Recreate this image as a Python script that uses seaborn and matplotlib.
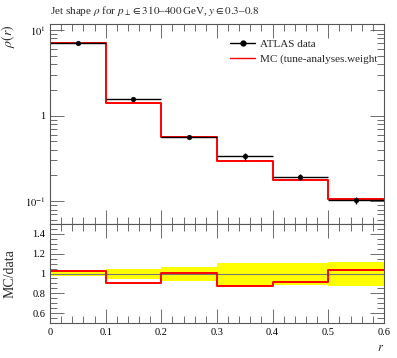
import numpy as np
import matplotlib
matplotlib.use("Agg")
import matplotlib.pyplot as plt
import seaborn as sns
from matplotlib.lines import Line2D

# bin edges in r
edges = [0.0, 0.1, 0.2, 0.3, 0.4, 0.5, 0.6]
# ATLAS data
data_rho = [7.0, 1.55, 0.565, 0.336, 0.192, 0.103]
data_err = [0.15, 0.05, 0.02, 0.03, 0.015, 0.01]
# MC prediction
mc_rho = [7.15, 1.40, 0.57, 0.295, 0.176, 0.107]
# relative data uncertainty band for ratio panel
band_lo = [0.97, 0.94, 0.92, 0.87, 0.88, 0.87]
band_hi = [1.03, 1.05, 1.07, 1.11, 1.11, 1.12]

edges = np.array(edges)
centers = 0.5 * (edges[:-1] + edges[1:])
halfw = 0.5 * np.diff(edges)
data_rho = np.array(data_rho)
mc_rho = np.array(mc_rho)
ratio = mc_rho / data_rho

sns.set_style("ticks")
plt.rcParams["font.family"] = ["Liberation Serif", "DejaVu Serif"]
plt.rcParams["mathtext.fontset"] = "stix"

fig = plt.figure(figsize=(3.97, 3.58), dpi=100)
ax = fig.add_axes([0.126, 0.374, 0.841, 0.559])
rax = fig.add_axes([0.126, 0.098, 0.841, 0.276], sharex=ax)

frame_col = "#555555"
for a in (ax, rax):
    for s in a.spines.values():
        s.set_color(frame_col)
        s.set_linewidth(0.8)
    a.tick_params(which="both", direction="in", top=True, right=True,
                  colors=frame_col, labelcolor="black", labelsize=7.5, width=0.6)
    a.tick_params(which="major", length=10)
    a.tick_params(which="minor", length=5)

# main panel
ax.set_yscale("log")
sns.lineplot(x=edges, y=np.append(mc_rho, mc_rho[-1]), drawstyle="steps-post",
             color="red", linewidth=1.4, ax=ax)
ax.errorbar(centers, data_rho, xerr=halfw, yerr=data_err, fmt="none",
            ecolor="black", elinewidth=1.0, capsize=0)
sns.scatterplot(x=centers, y=data_rho, color="black", s=12, edgecolor="black",
                ax=ax, zorder=5)
ax.set_xlim(0, 0.6)
ax.set_ylim(0.054, 11.8)
ax.set_yticks([0.1, 1, 10])
ax.set_yticklabels([r"$10^{-1}$", "1", r"$10^{1}$"])
ax.yaxis.set_minor_formatter(matplotlib.ticker.NullFormatter())
ax.set_ylabel(r"$\rho(r)$", fontsize=10, loc="top")
ax.yaxis.set_label_coords(-0.10, 1.0)
ax.tick_params(labelbottom=False)
ax.xaxis.set_minor_locator(matplotlib.ticker.MultipleLocator(0.02))

h_data = Line2D([], [], color="black", marker="o", markersize=3.5, linewidth=1.0)
h_mc = Line2D([], [], color="red", linewidth=1.0)
ax.legend([h_data, h_mc], ["ATLAS data", "MC (tune-analyses.weight"],
          loc="upper left", bbox_to_anchor=(0.51, 0.975), frameon=False,
          fontsize=8, handlelength=2.2, handletextpad=0.5, labelspacing=0.45)

ax.set_title(r"Jet shape $\rho$ for $p_\perp \in 310$–$400\,$GeV, $y \in 0.3$–$0.8$",
             fontsize=8, loc="left", pad=7)

# ratio panel
rax.fill_between(edges, np.append(band_lo, band_lo[-1]), np.append(band_hi, band_hi[-1]),
                 step="post", color="yellow", linewidth=0)
rax.axhline(1.0, color="#777777", linewidth=0.8)
sns.lineplot(x=edges, y=np.append(ratio, ratio[-1]), drawstyle="steps-post",
             color="red", linewidth=1.4, ax=rax)
rax.set_ylim(0.5, 1.5)
rax.set_yticks([0.6, 0.8, 1.0, 1.2, 1.4])
rax.set_yticklabels(["0.6", "0.8", "1", "1.2", "1.4"])
rax.yaxis.set_minor_locator(matplotlib.ticker.MultipleLocator(0.05))
rax.set_xticks([0, 0.1, 0.2, 0.3, 0.4, 0.5, 0.6])
rax.set_xticklabels(["0", "0.1", "0.2", "0.3", "0.4", "0.5", "0.6"])
rax.set_ylabel("MC/data", fontsize=10)
rax.yaxis.set_label_coords(-0.10, 0.5)
rax.set_xlabel(r"$r$", fontsize=9, loc="right")

fig.savefig("out.png", dpi=100)
